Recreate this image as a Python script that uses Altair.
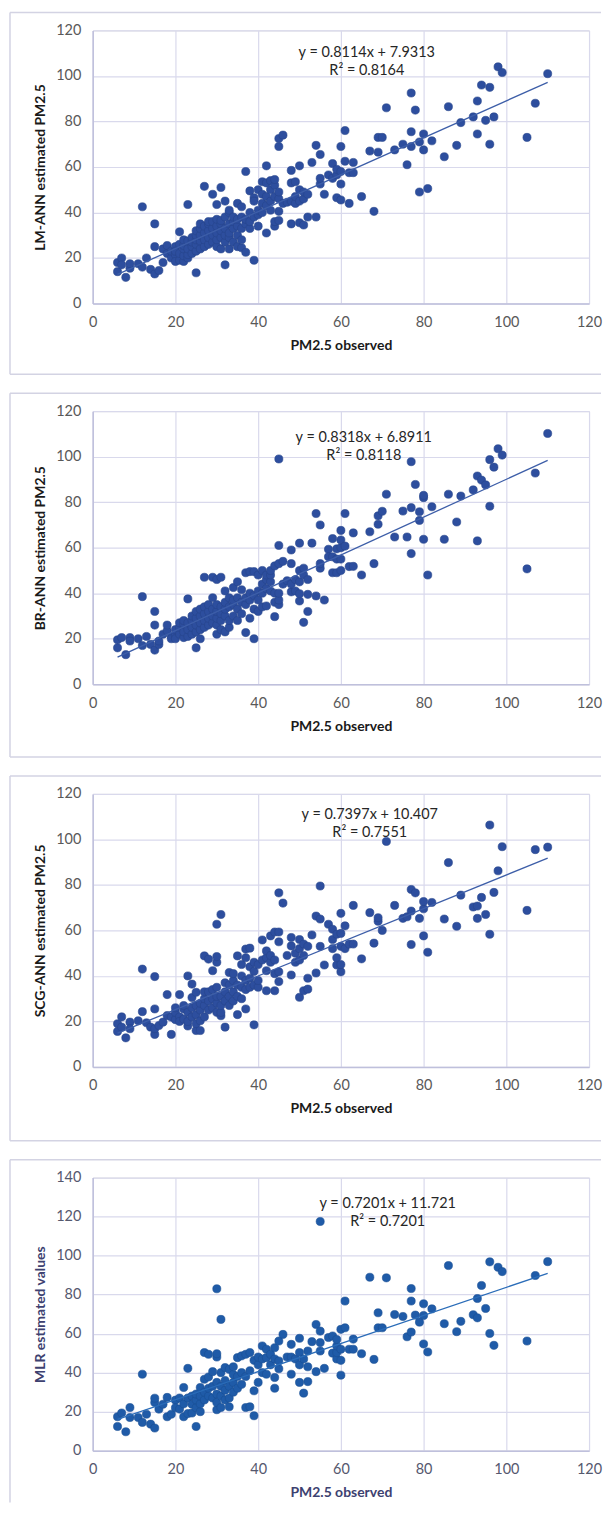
import altair as alt
import pandas as pd

# ---------------- data ----------------
X_TICKS = [0, 20, 40, 60, 80, 100, 120]
Y_TICKS_ANN = [0, 20, 40, 60, 80, 100, 120]
Y_TICKS_MLR = [0, 20, 40, 60, 80, 100, 120, 140]

X_TITLE = "PM2.5 observed"
Y_TITLES = ["LM-ANN estimated PM2.5", "BR-ANN estimated PM2.5",
            "SCG-ANN estimated PM2.5", "MLR estimated values"]
SLOPES = [0.8114, 0.8318, 0.7397, 0.7201]
INTERCEPTS = [7.9313, 6.8911, 10.407, 11.721]
EQUATIONS = ["y = 0.8114x + 7.9313", "y = 0.8318x + 6.8911",
             "y = 0.7397x + 10.407", "y = 0.7201x + 11.721"]
R2_TEXTS = ["R² = 0.8164", "R² = 0.8118", "R² = 0.7551", "R² = 0.7201"]

# observed value -> estimated values (LM-ANN)
LM_ANN = {
    6: [18, 14], 7: [20, 17], 8: [11.5], 9: [15.5, 17.5], 11: [17.5], 12: [16, 42.5],
    13: [20], 14: [15], 15: [13, 25, 35], 16: [14.5], 17: [18, 24], 18: [25.5, 22],
    19: [20, 23], 20: [21.5, 25, 18.5, 23], 21: [19, 22, 26, 31.5],
    22: [18.5, 21, 24, 25.5, 28], 23: [20, 21.5, 24, 27.5, 43.5], 24: [22, 25, 27, 29],
    25: [13.5, 23, 26, 28, 30, 32], 26: [24, 27.5, 30, 33, 35], 27: [25, 28, 31, 34, 51.5],
    28: [26, 29, 32, 35, 36], 29: [27, 30, 33, 36, 48], 30: [25, 28, 31, 34, 37, 43.5],
    31: [24, 29, 32, 35, 36.5, 51], 32: [17, 27, 30, 33, 38, 45], 33: [24, 29, 31, 35, 40, 41],
    34: [27, 33, 36, 38], 35: [25, 30, 34, 37, 44], 36: [24.5, 28, 33, 38, 42.5],
    37: [22.5, 35, 37, 58], 38: [33, 36, 40, 49.5], 39: [19, 38, 46.5, 45], 40: [34, 39, 41, 50],
    41: [40, 44, 48, 53.5], 42: [31, 43, 47, 53, 60.5], 43: [41, 45, 50, 54],
    44: [34, 36, 47, 52, 54.5], 45: [36.5, 40.5, 46, 49, 69, 72.5], 46: [44, 74], 47: [44.5],
    48: [35, 45, 53, 58.5], 49: [44, 47, 53.5], 50: [35.5, 45, 50, 60.5], 51: [34.5, 46, 49],
    52: [38, 48], 53: [62], 54: [38, 69.5], 55: [52.5, 55, 65.5], 56: [48], 57: [56.5],
    58: [55, 61.5], 59: [46.5, 56.5, 59], 60: [45.5, 52.5, 58, 69], 61: [62.5, 76],
    62: [44, 57.5], 63: [57.5, 62], 65: [47], 67: [67], 68: [40.5], 69: [66.5, 73], 70: [73],
    71: [86], 73: [67.5], 75: [70], 76: [61], 77: [69, 75.5, 92.5], 78: [85], 79: [49, 71],
    80: [67.5, 74.5], 81: [50.5], 82: [71.5], 85: [64.5], 86: [86.5], 88: [69.5], 89: [79.5],
    92: [82], 93: [74.5, 89], 94: [96], 95: [80.5], 96: [70, 95], 97: [82], 98: [104],
    99: [101.5], 105: [73], 107: [88], 110: [101],
}

# observed value -> estimated values (BR-ANN)
BR_ANN = {
    6: [19.5, 16], 7: [20.5], 8: [13], 9: [20.5, 19], 11: [20], 12: [17, 38.5], 13: [21],
    14: [17.5], 15: [15, 26, 32], 16: [17.5, 19], 17: [22], 18: [23.5, 26], 19: [21, 20],
    20: [21.5, 24, 20], 21: [22, 25, 27], 22: [20.5, 23, 26.5, 28], 23: [21, 24, 27, 37.5],
    24: [22, 25, 28, 30], 25: [16, 23, 26, 29, 32], 26: [20, 24, 27, 30, 33],
    27: [25, 28, 31, 34, 47], 28: [26, 29, 32, 35], 29: [27, 30, 33, 38, 47],
    30: [22, 26, 29, 32, 35, 46], 31: [24, 28, 31, 34, 47], 32: [23, 30, 33, 36, 41],
    33: [25, 28, 34, 38], 34: [30, 35, 37, 42.5], 35: [28, 33, 38, 45], 36: [31, 36, 41.5],
    37: [22.7, 35, 38, 49], 38: [29, 37, 40, 49.5], 39: [20, 33, 39, 49.5], 40: [32, 37, 41, 48],
    41: [34, 40, 44, 50], 42: [34.4, 42, 46, 48], 43: [41, 45, 48, 50], 44: [29.7, 36, 40, 52],
    45: [35, 37, 40, 53, 61, 99], 46: [44, 54], 47: [45.5], 48: [40.6, 44, 53, 59],
    49: [46, 41], 50: [36.6, 39.8, 45, 50, 62], 51: [27.2, 48, 51], 52: [32, 39.5, 46],
    53: [62], 54: [38.8, 75], 55: [51, 53, 70], 56: [37], 57: [59.3, 56], 58: [49, 56, 64],
    59: [49, 59.5, 55], 60: [50, 55, 60, 63.4, 67.6], 61: [60.7, 75], 62: [51.7],
    63: [51.8, 66.5], 65: [48], 67: [67], 68: [53], 69: [70.3, 74], 70: [76], 71: [83.5],
    73: [64.7], 75: [76.1], 76: [64.7], 77: [57.4, 77.6, 97.8], 78: [87.8], 79: [72, 75.8],
    80: [63.7, 82, 83], 81: [48], 82: [78], 85: [63.7], 86: [83.5], 88: [71.3], 89: [82.7],
    92: [85.4], 93: [63, 91.5], 94: [89.7], 95: [87.6], 96: [78.2, 98.7], 97: [95.4],
    98: [103.5], 99: [100.7], 105: [50.7], 107: [92.8], 110: [110.2],
}

# observed value -> estimated values (SCG-ANN)
SCG_ANN = {
    6: [19, 15.6], 7: [22, 17.5], 8: [12.8], 9: [19.7, 16.8], 11: [20.3], 12: [24.3, 43],
    13: [19.4], 14: [17.5], 15: [14.3, 16.8, 25.5, 39.7], 16: [18.2], 17: [19.7],
    18: [22.6, 31.8], 19: [14.3, 21.9], 20: [20.8, 24, 26], 21: [22, 31.8, 20],
    22: [21, 25.5, 27], 23: [18, 20, 24, 40], 24: [22, 26, 30.5, 36.4],
    25: [16, 19, 23, 27, 32.8], 26: [16, 20.3, 25, 28], 27: [22, 27, 30, 33, 48.8],
    28: [25, 29, 33, 47.4], 29: [26, 30, 34, 42.3], 30: [24, 28, 31, 35, 46, 48.5, 62.7],
    31: [22.5, 24, 27, 31, 67], 32: [17.5, 29, 33, 37], 33: [27, 31, 36, 41.5],
    34: [29, 33, 38, 41], 35: [23, 31, 36, 48.8], 36: [30, 35, 40, 45],
    37: [25.5, 34, 38, 51.8, 48], 38: [35, 39, 44, 52.2], 39: [18.5, 36, 42, 46],
    40: [35, 38, 45], 41: [47, 55.8], 42: [33.5, 42.3, 48, 51], 43: [46, 49, 57.6],
    44: [33.5, 41, 47, 59.3], 45: [37.5, 41.8, 55, 59.3, 76.5], 46: [72], 47: [49],
    48: [40.4, 53.2, 56.9], 49: [46, 50], 50: [30.6, 47, 52, 56], 51: [33.5, 49, 54],
    52: [34.2, 39, 53], 53: [58], 54: [41.3, 66.3], 55: [53, 65, 79.5], 56: [44.8],
    57: [62.7], 58: [52, 56, 60.5], 59: [44.8, 48, 58.3], 60: [41.8, 45, 53, 58.7, 67.5],
    61: [62, 52], 62: [54], 63: [54, 71], 65: [47.5], 67: [67.8], 68: [54.4],
    69: [64, 65.6], 70: [60], 71: [99.1], 73: [71], 75: [65.3], 76: [66],
    77: [53.8, 68.5, 78], 78: [76.5], 79: [65.3], 80: [57.6, 69.5, 72.7], 81: [50.4],
    82: [72.3], 85: [65], 86: [89.8], 88: [61.8], 89: [75.5], 92: [70.3], 93: [65.3, 70.7],
    94: [74.5], 95: [67], 96: [58.3, 106.3], 97: [76.7], 98: [86.2], 99: [96.8],
    105: [68.8], 107: [95.5], 110: [96.6],
}

# observed value -> estimated values (MLR)
MLR = {
    6: [17.4, 12.4], 7: [19.3], 8: [9.7], 9: [22.1, 17], 11: [17], 12: [14.5, 39.2],
    13: [18.7], 14: [13.6], 15: [11.6, 24.7, 26.9], 16: [21.3], 17: [23.8], 18: [17.4, 27.3],
    19: [18.7], 20: [25.9, 22], 21: [21.3, 27], 22: [17.4, 24, 32.4], 23: [19, 27, 42.2],
    24: [19.3, 23.8, 28], 25: [12.4, 22, 26, 29], 26: [20, 24, 28, 32.4],
    27: [26, 30, 36.6, 50.3], 28: [28, 32, 37.8, 49.4], 29: [27, 33, 40.5],
    30: [21, 24.7, 29, 35, 48, 49.7, 83], 31: [22.1, 28, 33, 40, 67.3], 32: [26, 31, 36, 42.6],
    33: [22.5, 27, 33, 41.7], 34: [30, 35, 39, 43], 35: [32, 38, 47.7], 36: [34, 40, 48.6],
    37: [22.1, 38, 49.4], 38: [22.5, 41, 50.3], 39: [17.9, 30.7, 46.3], 40: [35, 44, 48],
    41: [40, 47, 53.7], 42: [39.2, 47.7, 52], 43: [44, 49.4], 44: [32, 37.5, 47, 52.8],
    45: [42, 46, 56.2], 46: [59.6], 47: [48], 48: [39.2, 54.5, 48], 49: [47],
    50: [35, 44, 50.3, 57.6], 51: [29.5, 47], 52: [35.4, 43, 51.1], 53: [55.9],
    54: [40.5, 64.7], 55: [51.1, 55.4, 61.3, 117.5], 56: [42.2], 57: [58], 58: [50, 58.8],
    59: [47, 50.3, 53.7, 57], 60: [38.7, 46.3, 52, 62.2], 61: [63, 76.7], 62: [52],
    63: [52, 57.2], 65: [49.7], 67: [88.9], 68: [46.8], 69: [63, 70.7], 70: [63], 71: [88.6],
    73: [69.8], 75: [68.8], 76: [58.4], 77: [60.8, 76.7, 83.1], 78: [69.5], 79: [65.9],
    80: [54.7, 69.3, 75.3], 81: [50.6], 82: [72.7], 85: [65.1], 86: [94.9], 88: [61],
    89: [66.3], 92: [69.7], 93: [68.1, 78], 94: [84.7], 95: [72.9], 96: [60.1, 96.8],
    97: [54], 98: [94], 99: [91.8], 105: [56.2], 107: [89.8], 110: [96.9],
}

# ---------------- styling ----------------
W, H = 498, 274
FONT = "Lato"
GRID = "#d9d9ec"
DOMAIN = "#bfc0dc"
FRAME = "#d3d3e3"


def panel(points, idx, ymax, yticks, dot, dot_stroke, line_color, title_color,
          label_color, text_x, text_y, box_bottom, draw_bottom=True):
    xs, ys = [], []
    for k, vals in points.items():
        for v in vals:
            xs.append(k)
            ys.append(v)
    df = pd.DataFrame({"obs": xs, "est": ys})

    xenc = alt.X("obs:Q",
                 scale=alt.Scale(domain=[0, 120], nice=False, zero=False),
                 axis=alt.Axis(values=X_TICKS, title=X_TITLE, grid=True,
                               gridColor=GRID, gridWidth=1.2,
                               domainColor=DOMAIN, domainWidth=1.5,
                               ticks=False, tickSize=0, labelPadding=12,
                               labelFont=FONT, labelFontSize=14.5,
                               labelColor=label_color, labelFlush=False,
                               titleFont=FONT, titleFontSize=14,
                               titleFontWeight="bold", titleColor=title_color,
                               titleX=W / 2, titleY=42, titleBaseline="middle"))
    yenc = alt.Y("est:Q",
                 scale=alt.Scale(domain=[0, ymax], nice=False, zero=True),
                 axis=alt.Axis(values=yticks, title=Y_TITLES[idx], grid=True,
                               gridColor=GRID, gridWidth=1.2,
                               domainColor=DOMAIN, domainWidth=1.5,
                               ticks=False, tickSize=0, labelPadding=12,
                               labelFont=FONT, labelFontSize=14.5,
                               labelColor=label_color, labelFlush=False,
                               titleFont=FONT, titleFontSize=14,
                               titleFontWeight="bold", titleColor=title_color,
                               titleX=-52, titleY=H / 2, titleBaseline="middle",
                               titleAngle=270))

    pts = alt.Chart(df).mark_circle(size=66, opacity=1, color=dot,
                                    stroke=dot_stroke, strokeWidth=0.6).encode(x=xenc, y=yenc)

    lo, hi = min(xs), max(xs)
    ldf = pd.DataFrame({"obs": [lo, hi],
                        "est": [SLOPES[idx] * lo + INTERCEPTS[idx],
                                SLOPES[idx] * hi + INTERCEPTS[idx]]})
    line = alt.Chart(ldf).mark_line(color=line_color, strokeWidth=1.3).encode(x=xenc, y=yenc)

    tdf = pd.DataFrame({"t": [EQUATIONS[idx]]})
    rdf = pd.DataFrame({"t": [R2_TEXTS[idx]]})
    eq = alt.Chart(tdf).mark_text(font=FONT, fontSize=14.5, color="#262626",
                                  align="center", baseline="middle").encode(
        text="t:N", x=alt.value(text_x), y=alt.value(text_y))
    r2 = alt.Chart(rdf).mark_text(font=FONT, fontSize=14.5, color="#262626",
                                  align="center", baseline="middle").encode(
        text="t:N", x=alt.value(text_x), y=alt.value(text_y + 18))

    one = pd.DataFrame({"k": [0]})
    top = alt.Chart(one).mark_rule(color=FRAME, strokeWidth=1.5).encode(
        x=alt.value(-83), x2=alt.value(W + 12), y=alt.value(-18))
    left = alt.Chart(one).mark_rule(color=FRAME, strokeWidth=1.5).encode(
        x=alt.value(-83), y=alt.value(-18), y2=alt.value(H + box_bottom))
    layers = [top, left]
    if draw_bottom:
        bottom = alt.Chart(one).mark_rule(color=FRAME, strokeWidth=1.5).encode(
            x=alt.value(-83), x2=alt.value(W + 12), y=alt.value(H + box_bottom))
        layers.append(bottom)

    return alt.layer(*layers, pts, line, eq, r2).properties(width=W, height=H)


ANN_DOT, ANN_STROKE, ANN_LINE = "#2d4e9e", "#27458c", "#3d5ea8"
MLR_DOT, MLR_STROKE, MLR_LINE = "#1f5ba8", "#1a4f94", "#2a6cb8"

p1 = panel(LM_ANN, 0, 120, Y_TICKS_ANN, ANN_DOT, ANN_STROKE, ANN_LINE,
           "#1a1a1a", "#595959", 275, 23, 71)
p2 = panel(BR_ANN, 1, 120, Y_TICKS_ANN, ANN_DOT, ANN_STROKE, ANN_LINE,
           "#1a1a1a", "#595959", 272, 27, 73)
p3 = panel(SCG_ANN, 2, 120, Y_TICKS_ANN, ANN_DOT, ANN_STROKE, ANN_LINE,
           "#1a1a1a", "#595959", 278, 21, 74)
p4 = panel(MLR, 3, 140, Y_TICKS_MLR, MLR_DOT, MLR_STROKE, MLR_LINE,
           "#3d4170", "#55586e", 296, 27, 52, draw_bottom=False)

chart = alt.vconcat(p1, p2, p3, p4, spacing=15).properties(
    padding={"top": 0, "left": 0, "right": 0, "bottom": 0}
).configure_view(strokeWidth=0).configure(background="white")

chart.save("out.html", embed_options={"renderer": "svg", "actions": False})
